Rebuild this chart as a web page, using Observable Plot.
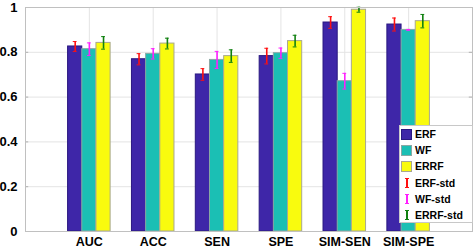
<!DOCTYPE html>
<html>
<head>
<meta charset="utf-8">
<script src="https://cdn.jsdelivr.net/npm/d3@7"></script>
<script src="https://cdn.jsdelivr.net/npm/@observablehq/plot@0.6"></script>
<style>
  html, body { margin: 0; padding: 0; background: #fff; }
  #wrap { position: relative; width: 475px; height: 251px; }
  #legend { position: absolute; left: 399px; top: 125px; width: 72px; height: 96px;
    border: 1px solid #c8c8c8; background: #fff; font: bold 10.5px "Liberation Sans", Arial, sans-serif; color: #000; }
  .row { position: relative; height: 16.2px; display: flex; align-items: center; }
  .sw { position: absolute; left: 1px; width: 11px; height: 11px; box-sizing: border-box; }
  .eb { position: absolute; left: 6px; width: 1.5px; height: 10px; }
  .eb::before, .eb::after { content: ""; position: absolute; left: -1px; width: 3.5px; height: 1px; background: inherit; }
  .eb::before { top: 0; } .eb::after { bottom: 0; }
  .lab { position: absolute; left: 15px; }
</style>
</head>
<body>
<div id="wrap"><div id="chart"></div><div id="legend"></div></div>
<script>
const categories = ["AUC", "ACC", "SEN", "SPE", "SIM-SEN", "SIM-SPE"];
const series = ["ERF", "WF", "ERRF"];
const erfValues  = [0.826, 0.769, 0.701, 0.783, 0.933, 0.924];
const wfValues   = [0.814, 0.793, 0.766, 0.796, 0.671, 0.900];
const errfValues = [0.842, 0.839, 0.783, 0.850, 0.990, 0.939];
const erfStd  = [0.022, 0.025, 0.026, 0.035, 0.026, 0.029];
const wfStd   = [0.028, 0.023, 0.038, 0.023, 0.035, 0.002];
const errfStd = [0.028, 0.024, 0.028, 0.026, 0.011, 0.030];
const yTicks = [0, 0.2, 0.4, 0.6, 0.8, 1];

const fills = ["#3e26a8", "#1bbfb4", "#f9fb0e"];
const edges = ["#2a1880", "#8aa8a4", "#a8a890"];
const errColors = ["#ff1010", "#ff20ff", "#108010"];

const valueArrays = [erfValues, wfValues, errfValues];
const stdArrays = [erfStd, wfStd, errfStd];
const barW = 0.222;

const rows = [];
categories.forEach((c, i) => {
  series.forEach((s, j) => {
    const center = i + 1 + (j - 1) * barW;
    rows.push({cat: c, series: s, j, x1: center - barW / 2, x2: center + barW / 2, xc: center,
      value: valueArrays[j][i], std: stdArrays[j][i]});
  });
});

const font = '"Liberation Sans", Arial, sans-serif';
const chart = Plot.plot({
  width: 475, height: 251,
  marginLeft: 25, marginRight: 3, marginTop: 7, marginBottom: 20,
  style: {fontFamily: font, fontWeight: "bold", fontSize: "12.5px", color: "#000", background: "#fff"},
  x: {domain: [0, 7], axis: null},
  y: {domain: [0, 1], axis: null},
  marks: [
    Plot.ruleY(yTicks.slice(1), {stroke: "#e4e4e4", strokeWidth: 1}),
    Plot.ruleX(d3.range(1, categories.length + 1), {stroke: "#e4e4e4", strokeWidth: 1}),
    Plot.rectY(rows, {x1: "x1", x2: "x2", y1: 0, y2: "value", fill: d => fills[d.j], stroke: d => edges[d.j], strokeWidth: 1}),
    Plot.ruleX(rows, {x: "xc", y1: d => d.value - d.std, y2: d => d.value + d.std, stroke: d => errColors[d.j], strokeWidth: 1.6}),
    Plot.ruleY(rows, {y: d => d.value - d.std, x1: d => d.xc - 0.03, x2: d => d.xc + 0.03, stroke: d => errColors[d.j], strokeWidth: 1}),
    Plot.ruleY(rows, {y: d => d.value + d.std, x1: d => d.xc - 0.03, x2: d => d.xc + 0.03, stroke: d => errColors[d.j], strokeWidth: 1}),
    Plot.ruleY(yTicks, {x1: 0, x2: 0.05, stroke: "#b0b0b0"}),
    Plot.ruleY(yTicks, {x1: 6.95, x2: 7, stroke: "#b0b0b0"}),
    Plot.frame({stroke: "#c0c0c0"}),
    Plot.axisY(yTicks, {anchor: "left", label: null, tickSize: 0, tickPadding: 8, tickFormat: d => String(d), fontSize: 13, fontWeight: "bold"}),
    Plot.axisX(d3.range(1, categories.length + 1), {anchor: "bottom", label: null, tickSize: 0, tickPadding: 6, tickFormat: d => categories[d - 1], fontSize: 12.5, fontWeight: "bold"})
  ]
});
document.getElementById("chart").appendChild(chart);

const legend = document.getElementById("legend");
series.forEach((s, j) => {
  const r = document.createElement("div"); r.className = "row";
  r.innerHTML = `<span class="sw" style="background:${fills[j]};border:1px solid ${edges[j]}"></span><span class="lab">${s}</span>`;
  legend.appendChild(r);
});
series.forEach((s, j) => {
  const r = document.createElement("div"); r.className = "row";
  r.innerHTML = `<span class="eb" style="background:${errColors[j]}"></span><span class="lab">${s}-std</span>`;
  legend.appendChild(r);
});
</script>
</body>
</html>
